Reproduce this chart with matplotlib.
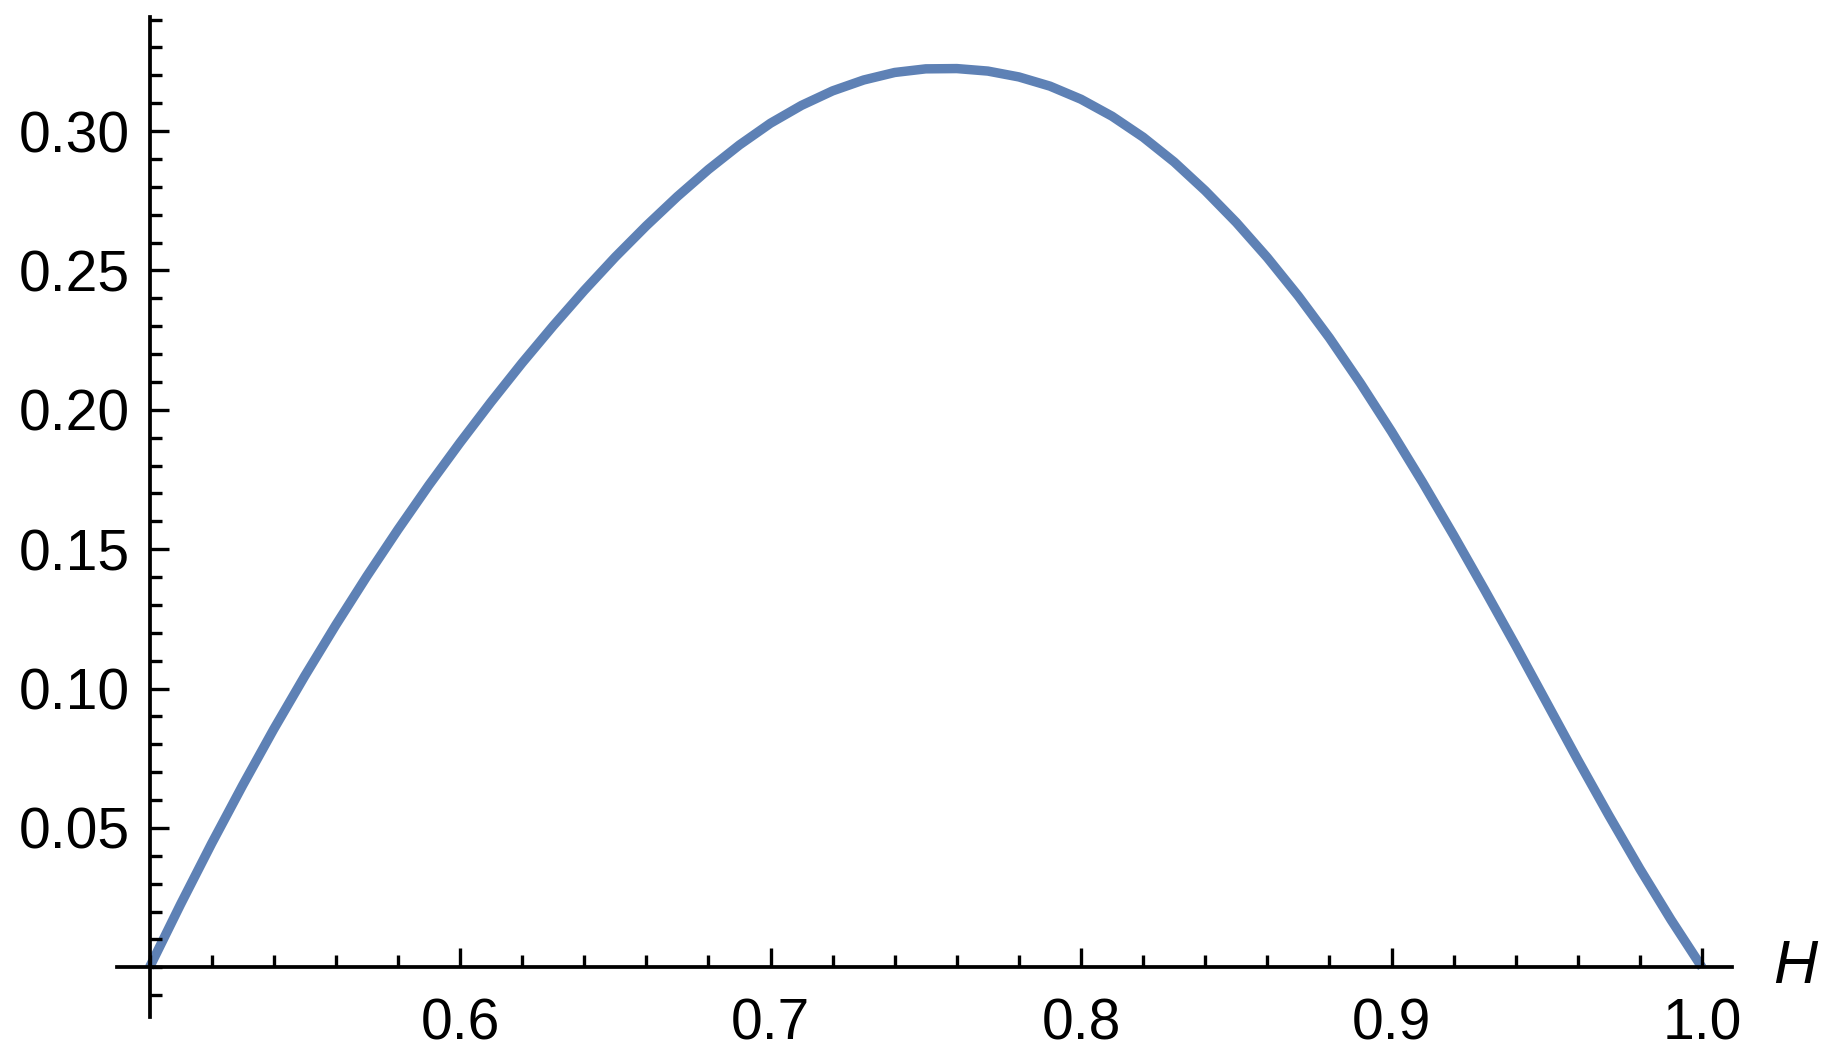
import matplotlib
matplotlib.use("Agg")
import matplotlib.pyplot as plt
from matplotlib.ticker import MultipleLocator, FormatStrFormatter

# curve (H, value), every 0.01
h_vals = [0.50, 0.51, 0.52, 0.53, 0.54, 0.55, 0.56, 0.57, 0.58, 0.59,
          0.60, 0.61, 0.62, 0.63, 0.64, 0.65, 0.66, 0.67, 0.68, 0.69,
          0.70, 0.71, 0.72, 0.73, 0.74, 0.75, 0.76, 0.77, 0.78, 0.79,
          0.80, 0.81, 0.82, 0.83, 0.84, 0.85, 0.86, 0.87, 0.88, 0.89,
          0.90, 0.91, 0.92, 0.93, 0.94, 0.95, 0.96, 0.97, 0.98, 0.99,
          1.00]
y_vals = [0.0000, 0.0226, 0.0444, 0.0653, 0.0854, 0.1045, 0.1228, 0.1403, 0.1570, 0.1730,
          0.1882, 0.2028, 0.2168, 0.2301, 0.2428, 0.2548, 0.2660, 0.2765, 0.2862, 0.2950,
          0.3028, 0.3092, 0.3144, 0.3183, 0.3210, 0.3223, 0.3224, 0.3215, 0.3194, 0.3161,
          0.3114, 0.3053, 0.2978, 0.2889, 0.2786, 0.2672, 0.2546, 0.2408, 0.2258, 0.2095,
          0.1922, 0.1740, 0.1550, 0.1354, 0.1154, 0.0949, 0.0744, 0.0545, 0.0353, 0.0171,
          0.0000]

x_label = "H"
line_color = "#5E81B5"

plt.rcParams['font.family'] = ['Liberation Sans', 'DejaVu Sans']

W, H_px = 1833, 1061
fig = plt.figure(figsize=(W / 100, H_px / 100), dpi=100)
ax = fig.add_axes([117 / W, 1 - 1016.7 / H_px, (1732 - 117) / W, (1016.7 - 17) / H_px])

ax.plot(h_vals, y_vals, color=line_color, linewidth=6.8, solid_capstyle='butt',
        solid_joinstyle='round', zorder=2)

ax.set_xlim(0.48953, 1.00966)
ax.set_ylim(-0.0177, 0.3409)

# Mathematica-style crossing axes
for side in ['top', 'right']:
    ax.spines[side].set_visible(False)
ax.spines['left'].set_position(('data', 0.5))
ax.spines['bottom'].set_position(('data', 0.0))
for side in ['left', 'bottom']:
    ax.spines[side].set_linewidth(2.7)
ax.set_axisbelow(False)

ax.set_xticks([0.6, 0.7, 0.8, 0.9, 1.0])
ax.xaxis.set_minor_locator(MultipleLocator(0.02))
ax.xaxis.set_major_formatter(FormatStrFormatter('%.1f'))
ax.set_yticks([0.05, 0.10, 0.15, 0.20, 0.25, 0.30])
ax.yaxis.set_minor_locator(MultipleLocator(0.01))
ax.yaxis.set_major_formatter(FormatStrFormatter('%.2f'))

ax.tick_params(axis='both', which='major', direction='in', length=14, width=2.4,
               labelsize=41, color='black')
ax.tick_params(axis='both', which='minor', direction='in', length=8.4, width=2.4)
ax.tick_params(axis='x', which='major', pad=22)
ax.tick_params(axis='y', which='major', pad=14)

ax.text(1.0300, 0.0, x_label, fontsize=44, fontstyle='italic',
        ha='center', va='center', clip_on=False)

fig.savefig('out.png', dpi=100)
